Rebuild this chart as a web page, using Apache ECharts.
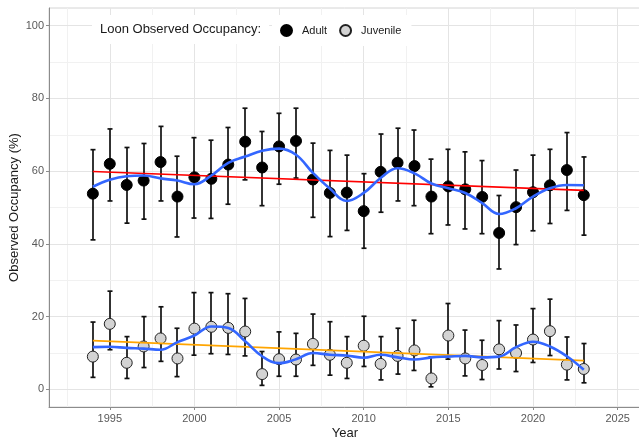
<!DOCTYPE html>
<html>
<head>
<meta charset="utf-8">
<script src="https://cdn.jsdelivr.net/npm/echarts@6/dist/echarts.min.js"></script>
<style>
  html, body { margin: 0; padding: 0; background: #fff; }
  #chart { width: 639px; height: 440px; }
</style>
</head>
<body>
<div id="chart"></div>
<script>
// values
const years = [1994, 1995, 1996, 1997, 1998, 1999, 2000, 2001, 2002, 2003, 2004, 2005, 2006, 2007, 2008,
    2009, 2010, 2011, 2012, 2013, 2014, 2015, 2016, 2017, 2018, 2019, 2020, 2021, 2022, 2023];

const adultMean = [53.8, 62.0, 56.2, 57.4, 62.5, 53.0, 58.3, 57.9, 61.8, 68.1, 61.0, 66.8, 68.3, 57.7, 54.0,
    54.1, 49.0, 59.8, 62.3, 61.4, 53.0, 55.8, 55.0, 52.9, 43.0, 50.1, 54.2, 56.1, 60.3, 53.4];
const adultLo = [41.1, 51.8, 45.7, 46.8, 51.8, 41.9, 47.1, 47.0, 50.9, 57.6, 50.5, 56.4, 58.1, 47.3, 42.0,
    43.7, 38.8, 48.7, 51.8, 50.5, 42.8, 45.2, 44.1, 42.8, 33.1, 39.8, 43.6, 45.6, 49.2, 42.4];
const adultHi = [65.9, 71.6, 66.5, 67.6, 72.3, 64.1, 69.2, 68.5, 72.0, 77.3, 70.9, 75.9, 77.3, 67.7, 65.7,
    64.4, 59.3, 70.2, 71.8, 71.3, 63.3, 66.0, 65.3, 62.9, 53.3, 60.3, 64.4, 66.0, 70.6, 63.9];

const juvMean = [9.0, 18.0, 7.3, 11.8, 14.0, 8.5, 16.7, 17.2, 16.9, 15.9, 4.2, 8.3, 8.2, 12.5, 9.5,
    7.3, 12.0, 7.0, 9.2, 10.7, 3.0, 14.8, 8.5, 6.7, 11.0, 10.0, 13.7, 16.0, 6.8, 5.6];
const juvLo = [3.3, 10.9, 3.0, 6.0, 7.7, 3.5, 9.4, 9.8, 9.6, 9.2, 1.1, 3.6, 3.6, 6.6, 3.9,
    3.0, 6.3, 2.6, 4.2, 5.2, 0.7, 8.3, 3.7, 2.7, 5.6, 4.9, 7.4, 9.3, 2.6, 1.8];
const juvHi = [18.5, 27.0, 14.5, 20.0, 22.7, 16.8, 26.6, 26.6, 26.3, 25.0, 10.4, 15.8, 15.4, 20.7, 18.6,
    14.5, 20.1, 14.5, 16.8, 19.0, 8.9, 23.6, 16.3, 13.5, 18.9, 17.7, 22.2, 24.8, 14.4, 12.6];

// smoothed curves (blue) read at each year
const adultSmooth = [55.7, 57.6, 58.6, 58.8, 58.0, 57.4, 56.4, 58.8, 62.3, 64.0, 65.6, 66.2, 64.5, 59.5, 55.2,
    51.8, 54.0, 58.1, 60.8, 59.4, 56.6, 55.3, 54.0, 51.2, 48.2, 49.8, 53.0, 55.3, 56.2, 56.1];
const juvSmooth = [11.6, 11.7, 11.4, 11.2, 10.9, 13.0, 14.8, 17.3, 16.9, 13.2, 9.1, 7.2, 8.3, 10.0, 9.5,
    9.3, 8.7, 9.5, 8.8, 8.2, 8.8, 9.0, 9.2, 8.8, 9.0, 11.6, 13.1, 11.8, 9.1, 5.4];

// linear trends: [start, end]
const adultTrend = [59.9, 54.7];
const juvTrend = [13.4, 7.9];

const xTickLabels = [1995, 2000, 2005, 2010, 2015, 2020, 2025];
const xMinorGrid = [1992.5, 1997.5, 2002.5, 2007.5, 2012.5, 2017.5, 2022.5];
const yTickLabels = [0, 20, 40, 60, 80, 100];
const yMinorGrid = [10, 30, 50, 70, 90];

const FONT = '"Liberation Sans", Arial, sans-serif';

function zip(xs, ys) {
    return xs.map((x, i) => [x, ys[i]]);
}

function renderErrorBar(params, api) {
    const x = api.value(0);
    const top = api.coord([x, api.value(2)]);
    const bottom = api.coord([x, api.value(1)]);
    // snap to whole pixels so the thin bars stay crisp
    const px = Math.round(top[0]);
    const cap = 2.5;
    const style = { stroke: '#111', lineWidth: 1.7 };
    return {
        type: 'group',
        children: [
            { type: 'line', shape: { x1: px, y1: top[1], x2: px, y2: bottom[1] }, style },
            { type: 'line', shape: { x1: px - cap, y1: top[1], x2: px + cap, y2: top[1] }, style },
            { type: 'line', shape: { x1: px - cap, y1: bottom[1], x2: px + cap, y2: bottom[1] }, style },
        ],
    };
}

const gridLines = []
    .concat(xTickLabels.map((v) => ({ xAxis: v, lineStyle: { color: '#e4e4e4', width: 1, type: 'solid' } })))
    .concat(xMinorGrid.map((v) => ({ xAxis: v, lineStyle: { color: '#f1f1f1', width: 1, type: 'solid' } })))
    .concat(yTickLabels.map((v) => ({ yAxis: v, lineStyle: { color: '#e4e4e4', width: 1, type: 'solid' } })))
    .concat(yMinorGrid.map((v) => ({ yAxis: v, lineStyle: { color: '#f1f1f1', width: 1, type: 'solid' } })));

const chart = echarts.init(document.getElementById('chart'), null, { renderer: 'canvas' });

chart.setOption({
    animation: false,
    backgroundColor: '#fff',
    textStyle: { fontFamily: FONT },
    title: {
        text: 'Loon Observed Occupancy:',
        left: 92,
        top: 15,
        padding: [8, 8, 8, 8],
        backgroundColor: '#fff',
        textStyle: { fontFamily: FONT, fontSize: 13, fontWeight: 'normal', color: '#1a1a1a' },
        z: 10,
    },
    legend: {
        data: ['Adult', 'Juvenile'],
        left: 272,
        top: 15,
        padding: [9, 10, 9, 8],
        backgroundColor: '#fff',
        itemWidth: 11,
        itemHeight: 11,
        itemGap: 12,
        icon: 'circle',
        textStyle: { fontFamily: FONT, fontSize: 11, color: '#1a1a1a', padding: [0, 0, 0, 5] },
        z: 10,
    },
    grid: {
        left: 49,
        top: 8,
        right: -2,
        bottom: 33,
        show: true,
        borderColor: '#d4d4d4',
        borderWidth: 1,
        containLabel: false,
        outerBoundsMode: 'none',
    },
    xAxis: {
        type: 'value',
        min: 1991.41,
        max: 2026.38,
        name: 'Year',
        nameLocation: 'middle',
        nameGap: 20,
        nameMoveOverlap: false,
        nameTextStyle: { fontFamily: FONT, fontSize: 13, color: '#1a1a1a' },
        axisLine: { show: true, onZero: false, lineStyle: { color: '#8c8c8c', width: 1 } },
        axisTick: { show: true, length: 3, customValues: xTickLabels, lineStyle: { color: '#8c8c8c' } },
        axisLabel: {
            customValues: xTickLabels,
            formatter: (v) => String(v),
            fontSize: 11, color: '#595959', margin: 6, fontFamily: FONT,
        },
        splitLine: { show: false },
    },
    yAxis: {
        type: 'value',
        min: -4.85,
        max: 104.85,
        name: 'Observed Occupancy (%)',
        nameLocation: 'middle',
        nameGap: 28,
        nameMoveOverlap: false,
        nameTextStyle: { fontFamily: FONT, fontSize: 13, color: '#1a1a1a' },
        axisLine: { show: true, onZero: false, lineStyle: { color: '#8c8c8c', width: 1 } },
        axisTick: { show: true, length: 3, customValues: yTickLabels, lineStyle: { color: '#8c8c8c' } },
        axisLabel: {
            customValues: yTickLabels,
            formatter: (v) => String(v),
            fontSize: 11, color: '#595959', margin: 5, fontFamily: FONT,
        },
        splitLine: { show: false },
    },
    series: [
        {
            name: 'gridlines',
            type: 'line',
            data: [],
            silent: true,
            z: 0,
            markLine: {
                silent: true,
                z: 0,
                symbol: ['none', 'none'],
                label: { show: false },
                data: gridLines,
            },
        },
        {
            name: 'adultErr',
            type: 'custom',
            renderItem: renderErrorBar,
            encode: { x: 0, y: [1, 2] },
            data: years.map((y, i) => [y, adultLo[i], adultHi[i]]),
            z: 2,
        },
        {
            name: 'juvErr',
            type: 'custom',
            renderItem: renderErrorBar,
            encode: { x: 0, y: [1, 2] },
            data: years.map((y, i) => [y, juvLo[i], juvHi[i]]),
            z: 2,
        },
        {
            name: 'Adult',
            type: 'scatter',
            data: zip(years, adultMean),
            symbolSize: 11,
            itemStyle: { color: '#000', borderColor: '#000', borderWidth: 1, opacity: 1 },
            z: 3,
        },
        {
            name: 'Juvenile',
            type: 'scatter',
            data: zip(years, juvMean),
            symbolSize: 11,
            itemStyle: { color: '#d3d3d3', borderColor: '#222', borderWidth: 1, opacity: 1 },
            z: 3,
        },
        {
            name: 'adultTrend',
            type: 'line',
            data: [[years[0], adultTrend[0]], [years[years.length - 1], adultTrend[1]]],
            showSymbol: false,
            lineStyle: { color: '#ff0000', width: 1.6 },
            z: 4,
        },
        {
            name: 'juvTrend',
            type: 'line',
            data: [[years[0], juvTrend[0]], [years[years.length - 1], juvTrend[1]]],
            showSymbol: false,
            lineStyle: { color: '#ffa500', width: 1.6 },
            z: 4,
        },
        {
            name: 'adultSmooth',
            type: 'line',
            data: zip(years, adultSmooth),
            smooth: 0.4,
            showSymbol: false,
            lineStyle: { color: '#3366ff', width: 2.6 },
            z: 5,
        },
        {
            name: 'juvSmooth',
            type: 'line',
            data: zip(years, juvSmooth),
            smooth: 0.4,
            showSymbol: false,
            lineStyle: { color: '#3366ff', width: 2.6 },
            z: 5,
        },
    ],
});
</script>
</body>
</html>
